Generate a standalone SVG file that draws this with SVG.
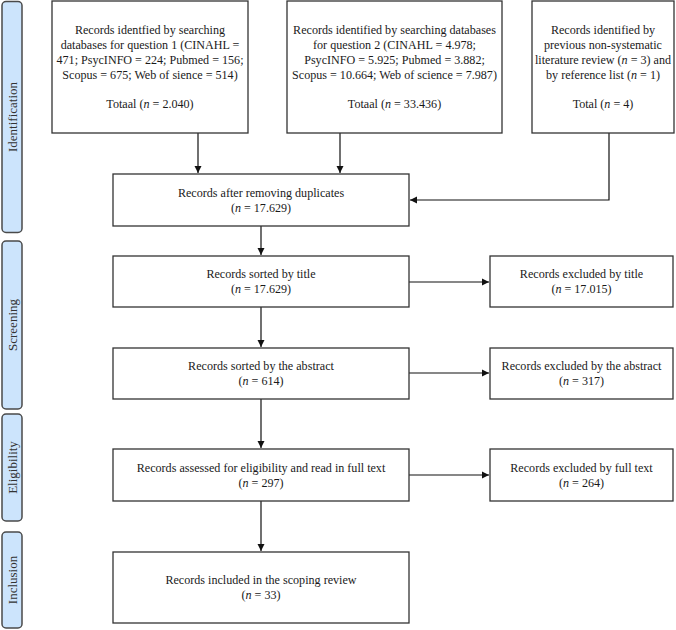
<svg xmlns="http://www.w3.org/2000/svg" width="676" height="630" viewBox="0 0 676 630">
<defs>
<style>
.side{fill:#cce4fc;stroke:#4a4a4a;stroke-width:1.5}
.box{fill:#fff;stroke:#333;stroke-width:1.3}
text{font-family:'Liberation Serif','Times New Roman','DejaVu Serif',serif}
.t{font-size:12.1px;fill:#1a1a1a;text-anchor:middle}
.st{font-size:13px;fill:#333;text-anchor:middle}
.i{font-style:italic}
.c{fill:none;stroke:#111;stroke-width:1.2}
</style>
<marker id="ah" markerWidth="8" markerHeight="8" refX="7" refY="4" orient="auto" markerUnits="userSpaceOnUse">
<path d="M0,0.5 L7,4 L0,7.5 Z" fill="#111"/>
</marker>
</defs>
<rect width="676" height="630" fill="#fff"/>

<g id="phase-identification">
<rect class="side" x="2" y="1.5" width="20" height="231" rx="4"/>
<text class="st" transform="translate(16.5,117) rotate(-90)">Identification</text>
</g>
<g id="phase-screening">
<rect class="side" x="2" y="241" width="20" height="168" rx="4"/>
<text class="st" transform="translate(16.5,325) rotate(-90)">Screening</text>
</g>
<g id="phase-eligibility">
<rect class="side" x="2" y="414" width="20" height="107" rx="4"/>
<text class="st" transform="translate(16.5,467.5) rotate(-90)">Eligibility</text>
</g>
<g id="phase-inclusion">
<rect class="side" x="2" y="532" width="20" height="96" rx="4"/>
<text class="st" transform="translate(16.5,580) rotate(-90)">Inclusion</text>
</g>

<g id="connectors">
<line class="c" x1="198" y1="133" x2="198" y2="173" marker-end="url(#ah)"/>
<line class="c" x1="340" y1="133" x2="340" y2="173" marker-end="url(#ah)"/>
<polyline class="c" points="609,133 609,200 410,200" marker-end="url(#ah)"/>
<line class="c" x1="261" y1="226" x2="261" y2="255" marker-end="url(#ah)"/>
<line class="c" x1="261" y1="307" x2="261" y2="347" marker-end="url(#ah)"/>
<line class="c" x1="261" y1="399" x2="261" y2="448" marker-end="url(#ah)"/>
<line class="c" x1="261" y1="501" x2="261" y2="551" marker-end="url(#ah)"/>
<line class="c" x1="409" y1="282" x2="489" y2="282" marker-end="url(#ah)"/>
<line class="c" x1="409" y1="373" x2="489" y2="373" marker-end="url(#ah)"/>
<line class="c" x1="409" y1="475" x2="489" y2="475" marker-end="url(#ah)"/>
</g>

<g id="box-q1">
<rect class="box" x="52" y="1" width="196" height="132"/>
<text class="t" x="150" y="34">Records identfied by searching</text>
<text class="t" x="150" y="49">databases for question 1 (CINAHL =</text>
<text class="t" x="150" y="64">471; PsycINFO = 224; Pubmed = 156;</text>
<text class="t" x="150" y="79">Scopus = 675; Web of sience = 514)</text>
<text class="t" x="150" y="108">Totaal (<tspan class="i">n</tspan> = 2.040)</text>
</g>

<g id="box-q2">
<rect class="box" x="287" y="1" width="215" height="132"/>
<text class="t" x="394.5" y="34">Records identified by searching databases</text>
<text class="t" x="394.5" y="49">for question 2 (CINAHL = 4.978;</text>
<text class="t" x="394.5" y="64">PsycINFO = 5.925; Pubmed = 3.882;</text>
<text class="t" x="394.5" y="79">Scopus = 10.664; Web of science = 7.987)</text>
<text class="t" x="394.5" y="108">Totaal (<tspan class="i">n</tspan> = 33.436)</text>
</g>

<g id="box-other">
<rect class="box" x="532" y="1" width="142" height="132"/>
<text class="t" x="603" y="34">Records identified by</text>
<text class="t" x="603" y="49">previous non-systematic</text>
<text class="t" x="603" y="64">literature review (<tspan class="i">n</tspan> = 3) and</text>
<text class="t" x="603" y="79">by reference list (<tspan class="i">n</tspan> = 1)</text>
<text class="t" x="603" y="108">Total (<tspan class="i">n</tspan> = 4)</text>
</g>

<g id="box-duplicates">
<rect class="box" x="113" y="174" width="296" height="52"/>
<text class="t" x="261" y="197">Records after removing duplicates</text>
<text class="t" x="261" y="212">(<tspan class="i">n</tspan> = 17.629)</text>
</g>

<g id="box-title">
<rect class="box" x="113" y="256" width="296" height="51"/>
<text class="t" x="261" y="278">Records sorted by title</text>
<text class="t" x="261" y="293">(<tspan class="i">n</tspan> = 17.629)</text>
</g>

<g id="box-excl-title">
<rect class="box" x="490" y="256" width="183" height="51"/>
<text class="t" x="581.5" y="278">Records excluded by title</text>
<text class="t" x="581.5" y="293">(<tspan class="i">n</tspan> = 17.015)</text>
</g>

<g id="box-abstract">
<rect class="box" x="113" y="348" width="296" height="51"/>
<text class="t" x="261" y="370">Records sorted by the abstract</text>
<text class="t" x="261" y="385">(<tspan class="i">n</tspan> = 614)</text>
</g>

<g id="box-excl-abstract">
<rect class="box" x="490" y="348" width="183" height="51"/>
<text class="t" x="581.5" y="370">Records excluded by the abstract</text>
<text class="t" x="581.5" y="385">(<tspan class="i">n</tspan> = 317)</text>
</g>

<g id="box-eligibility">
<rect class="box" x="113" y="449" width="296" height="52"/>
<text class="t" x="261" y="472">Records assessed for eligibility and read in full text</text>
<text class="t" x="261" y="487">(<tspan class="i">n</tspan> = 297)</text>
</g>

<g id="box-excl-full">
<rect class="box" x="490" y="449" width="183" height="52"/>
<text class="t" x="581.5" y="472">Records excluded by full text</text>
<text class="t" x="581.5" y="487">(<tspan class="i">n</tspan> = 264)</text>
</g>

<g id="box-included">
<rect class="box" x="113" y="552" width="296" height="71"/>
<text class="t" x="261" y="584">Records included in the scoping review</text>
<text class="t" x="261" y="599">(<tspan class="i">n</tspan> = 33)</text>
</g>
</svg>
